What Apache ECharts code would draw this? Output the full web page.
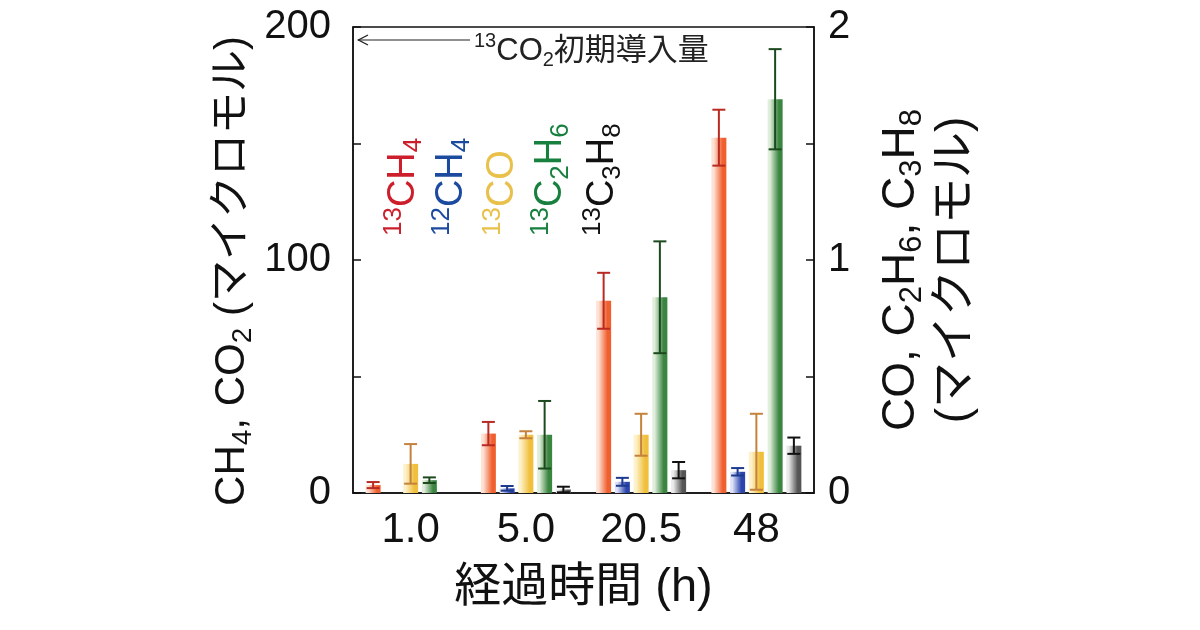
<!DOCTYPE html>
<html><head><meta charset="utf-8">
<script src="https://cdn.jsdelivr.net/npm/echarts@6/dist/echarts.min.js"></script>
<style>html,body{margin:0;padding:0;background:#fff}#c{width:1200px;height:630px}</style>
</head><body><div id="c"></div>
<script>
// ---- data ----
const categories = ['1.0', '5.0', '20.5', '48'];
const ch4_13 = [3.4, 25.5, 82.5, 152.5];
const ch4_13_err = [1.3, 5, 12, 12];
const ch4_12 = [0, 2, 4.8, 9.1];
const ch4_12_err = [0, 1, 1.7, 1.6];
const co_13 = [0.125, 0.25, 0.25, 0.177];
const co_13_err = [0.085, 0.015, 0.09, 0.163];
const c2h6_13 = [0.055, 0.25, 0.84, 1.69];
const c2h6_13_err = [0.012, 0.145, 0.24, 0.215];
const c3h8_13 = [0, 0.015, 0.098, 0.203];
const c3h8_13_err = [0, 0.012, 0.035, 0.035];
const leftTicks = [0, 100, 200];
const rightTicks = [0, 1, 2];

const FONT = "'Liberation Sans', Arial, 'Noto Sans CJK JP', sans-serif";
const BAR_W = 15, GAP = 0.25;

const seriesDefs = [
  {name: '13CH4', vals: ch4_13, err: ch4_13_err, axis: 0, light: '#fde3d6', dark: '#f0602f', ecol: '#b82a22'},
  {name: '12CH4', vals: ch4_12, err: ch4_12_err, axis: 0, light: '#dfe2f7', dark: '#2b45ad', ecol: '#1d3a8f'},
  {name: '13CO', vals: co_13, err: co_13_err, axis: 1, light: '#fdf2cc', dark: '#f0bf3c', ecol: '#c4823c'},
  {name: '13C2H6', vals: c2h6_13, err: c2h6_13_err, axis: 1, light: '#e1eedc', dark: '#3a8540', ecol: '#1c4a1e'},
  {name: '13C3H8', vals: c3h8_13, err: c3h8_13_err, axis: 1, light: '#eaeaea', dark: '#555555', ecol: '#111111'}
];

const series = [];
seriesDefs.forEach((d, i) => {
  series.push({
    type: 'bar', name: d.name, yAxisIndex: d.axis, barWidth: BAR_W, barGap: (GAP * 100) + '%',
    data: d.vals,
    itemStyle: {color: new echarts.graphic.LinearGradient(0, 0, 1, 0, [
      {offset: 0, color: d.light}, {offset: 0.15, color: d.light}, {offset: 0.75, color: d.dark}, {offset: 1, color: d.dark}])},
    z: 2
  });
});
seriesDefs.forEach((d, i) => {
  series.push({
    type: 'custom', yAxisIndex: d.axis, z: 5,
    data: d.vals.map((v, k) => [k, v, d.err[k]]),
    renderItem: function (params, api) {
      const c = api.value(0), v = api.value(1), e = api.value(2);
      if (!e) return null;
      const off = (i - 2) * BAR_W * (1 + GAP);
      const t = api.coord([c, v + e]);
      const b = api.coord([c, Math.max(0, v - e)]);
      const x = t[0] + off, hw = 6.5;
      const st = {stroke: d.ecol, lineWidth: 2, fill: null};
      return {type: 'group', children: [
        {type: 'line', shape: {x1: x, y1: t[1], x2: x, y2: b[1]}, style: st},
        {type: 'line', shape: {x1: x - hw, y1: t[1], x2: x + hw, y2: t[1]}, style: st},
        {type: 'line', shape: {x1: x - hw, y1: b[1], x2: x + hw, y2: b[1]}, style: st}
      ]};
    }
  });
});

function rich(color, size, ratio) {
  const s = Math.round(size * (ratio || 0.62));
  return {
    m: {fontSize: size, lineHeight: size + 8, fontFamily: FONT, fill: color, color: color},
    s: {fontSize: s, lineHeight: s, verticalAlign: 'top', fontFamily: FONT, fill: color, color: color},
    b: {fontSize: s, lineHeight: s, verticalAlign: 'bottom', fontFamily: FONT, fill: color, color: color},
    j: {fontSize: size, lineHeight: size + 8, fontFamily: FONT, fill: color, color: color}
  };
}

const labelDefs = [
  {t: '{s|13}{m|CH}{b|4}', c: '#cc1f2b', x: 404},
  {t: '{s|12}{m|CH}{b|4}', c: '#1b4a9e', x: 452},
  {t: '{s|13}{m|CO}', c: '#e9c04a', x: 503},
  {t: '{s|13}{m|C}{b|2}{m|H}{b|6}', c: '#17803e', x: 551},
  {t: '{s|13}{m|C}{b|3}{m|H}{b|8}', c: '#111111', x: 603}
];
const graphic = labelDefs.map(l => ({
  type: 'text', x: l.x, y: 236, rotation: Math.PI / 2, z: 10,
  style: {text: l.t, rich: rich(l.c, 38, 0.68), fill: l.c, align: 'left', verticalAlign: 'middle', fontFamily: FONT, fontSize: 38}
}));
graphic.push({type: 'line', shape: {x1: 470, y1: 40, x2: 358, y2: 40}, style: {stroke: '#222', lineWidth: 1.2}, z: 10});
graphic.push({type: 'polyline', shape: {points: [[368, 35], [358.5, 40], [368, 45]]}, style: {stroke: '#222', lineWidth: 1.4, fill: null}, z: 10});
graphic.push({type: 'text', x: 474, y: 51, z: 10,
  style: {text: '{s|13}{m|CO}{b|2}{j|初期導入量}', rich: rich('#222', 31, 0.66), fill: '#222', align: 'left', verticalAlign: 'middle', fontFamily: FONT}});

const chart = echarts.init(document.getElementById('c'));
chart.setOption({
  animation: false,
  backgroundColor: '#fff',
  grid: {left: 353, right: 386, top: 27, bottom: 137, show: true, borderColor: '#111', borderWidth: 1.5, backgroundColor: 'transparent'},
  xAxis: {
    type: 'category', data: categories,
    axisLine: {lineStyle: {color: '#111', width: 1.5}}, axisTick: {show: false},
    axisLabel: {fontSize: 42, color: '#111', fontFamily: FONT, margin: 16},
    name: '経過時間 (h)', nameLocation: 'middle', nameGap: 72,
    nameTextStyle: {fontSize: 47, color: '#111', fontFamily: FONT}
  },
  yAxis: [
    {type: 'value', min: 0, max: 200, interval: 50, position: 'left',
      axisLine: {show: true, lineStyle: {color: '#111', width: 1.5}},
      axisTick: {show: true, inside: true, length: 8, lineStyle: {color: '#111', width: 1.5}},
      splitLine: {show: false},
      axisLabel: {fontSize: 40, color: '#111', fontFamily: FONT, margin: 22,
        formatter: v => leftTicks.indexOf(v) >= 0 ? String(v) : ''},
      name: '{m|CH}{b|4}{m|, CO}{b|2}{m| (マイクロモル)}', nameLocation: 'middle', nameGap: 96, nameRotate: 90,
      nameTextStyle: {color: '#111', rich: rich('#111', 42, 0.66), padding: [0, 22, 0, 0]}
    },
    {type: 'value', min: 0, max: 2, interval: 0.5, position: 'right',
      axisLine: {show: true, lineStyle: {color: '#111', width: 1.5}},
      axisTick: {show: true, inside: true, length: 8, lineStyle: {color: '#111', width: 1.5}},
      splitLine: {show: false},
      axisLabel: {fontSize: 40, color: '#111', fontFamily: FONT, margin: 14,
        formatter: v => rightTicks.indexOf(v) >= 0 ? String(v) : ''},
      name: '{m|CO, C}{b|2}{m|H}{b|6}{m|, C}{b|3}{m|H}{b|8}\n{m|(マイクロモル)}', nameLocation: 'middle', nameGap: 60, nameRotate: 90,
      nameTextStyle: {color: '#111', rich: rich('#111', 46, 0.68), padding: [0, 20, 0, 0]}
    }
  ],
  series: series,
  graphic: graphic
});
</script></body></html>
